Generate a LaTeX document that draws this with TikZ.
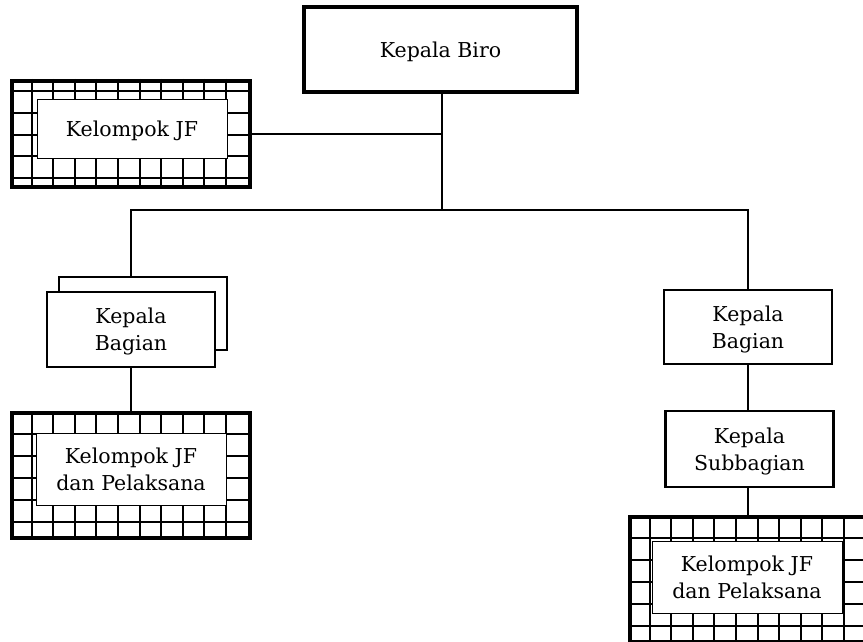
\documentclass[tikz,border=0pt]{standalone}
\usepackage{fontspec}
\setmainfont{DejaVu Serif}
\usetikzlibrary{calc}

\tikzset{
  txt/.style={font=\fontsize{20.5}{27}\selectfont, align=center, text depth=0pt},
  headbox/.style={draw, line width=3.5pt, fill=white, txt, minimum width=273pt, minimum height=85pt},
  unitbox/.style={draw, line width=2.2pt, fill=white, txt, inner sep=0pt, minimum width=168pt, minimum height=75pt},
  tilebox/.style={draw, line width=4pt, fill=white, minimum width=238pt},
  tileline/.style={line width=1.9pt},
  tiletext/.style={draw, line width=0.9pt, fill=white, txt, inner sep=0pt, minimum width=190pt},
  link/.style={line width=1.3pt},
}

% tiled border: #1 outer node, #2 row offsets from the top
\newcommand{\tilegrid}[2]{%
  \foreach \c in {1,...,10}
    \draw[tileline] ($(#1.north west)+(\c*21.6,0)$) -- ($(#1.south west)+(\c*21.6,0)$);
  \foreach \r in {#2}
    \draw[tileline] ($(#1.north west)+(0,\r)$) -- ($(#1.north east)+(0,\r)$);
}

\begin{document}
\begin{tikzpicture}[x=1pt, y=-1pt]
\useasboundingbox (0,0) rectangle (863,642);

% connectors
\coordinate (bus) at (442,210);

% head
\node[headbox] (biro) at (440.5,49.5) {Kepala Biro};

% functional group beside the head
\node[tilebox, minimum height=106pt] (jfA) at (131,134) {};
\tilegrid{jfA}{12,34,56,77,99}
\node[tiletext, minimum height=59pt] (jfAtext) at (132,128.5) {Kelompok JF};

% left branch
\node[unitbox, minimum height=73pt] (kbLback) at (143,313.5) {};
\node[unitbox] (kbL) at (131,329.5) {Kepala\\Bagian};
\node[tilebox, minimum height=125pt] (jfB) at (131,475.5) {};
\tilegrid{jfB}{23,45,67,89,111}
\node[tiletext, minimum height=72pt] (jfBtext) at (131,469) {Kelompok JF\\dan Pelaksana};

% right branch
\node[unitbox, minimum height=74pt] (kbR) at (748,327) {Kepala\\Bagian};
\node[unitbox, minimum height=76pt] (ksb) at (749.5,449) {Kepala\\Subbagian};
\node[tilebox, minimum height=125pt] (jfC) at (749,579.5) {};
\tilegrid{jfC}{23,45,67,89,111}
\node[tiletext, minimum height=72pt] (jfCtext) at (747,577) {Kelompok JF\\dan Pelaksana};

\draw[link] (bus |- biro.south) -- (bus);
\draw[link] (jfA.east) -- (jfA.east -| bus);
\draw[link] (kbL.north |- kbLback.north) -- (kbL.north |- bus) -- (kbR.north |- bus) -- (kbR.north);
\draw[link] (kbL.south) -- (kbL.south |- jfB.north);
\draw[link] (kbR.south) -- (kbR.south |- ksb.north);
\draw[link] (ksb.south -| kbR) -- (kbR |- jfC.north);
\end{tikzpicture}
\end{document}
